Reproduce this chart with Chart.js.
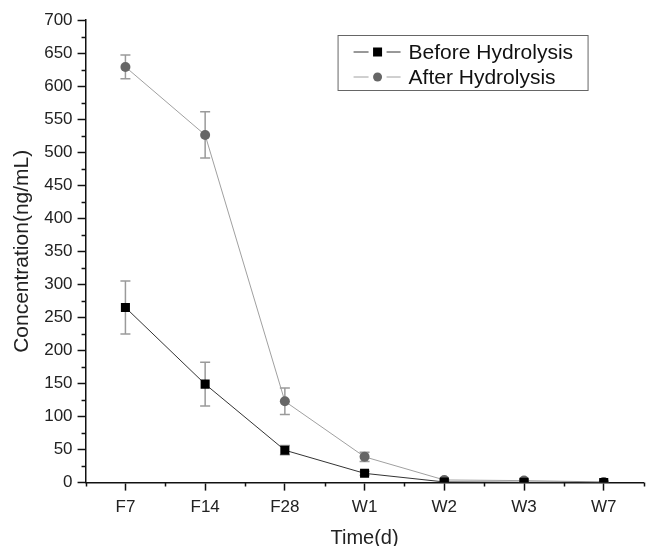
<!DOCTYPE html>
<html>
<head>
<meta charset="utf-8">
<script src="https://cdn.jsdelivr.net/npm/chart.js@4/dist/chart.umd.min.js"></script>
<style>
  html, body { margin: 0; padding: 0; background: #fff; }
  #wrap { width: 650px; height: 546px; }
</style>
</head>
<body>
<div id="wrap"><canvas id="chart" width="650" height="546"></canvas></div>
<script>
/* ── Données ─────────────────────────────────────────────────── */
const timepoints   = ['F7', 'F14', 'F28', 'W1', 'W2', 'W3', 'W7'];
const beforeValues = [265, 149, 49, 14, 1, 0.5, 0.3];
const beforeErrors = [40, 33, 7, 3, 0.5, 0.3, 0.2];
const afterValues  = [629, 526, 123, 39, 4, 3, 1];
const afterErrors  = [18, 35, 20, 7, 1, 1, 0.5];
const yTicksMax    = 700;
const yStep        = 50;

const FONT = '"Liberation Sans", Arial, sans-serif';
Chart.defaults.font.family = FONT;
Chart.defaults.color = '#222';

/* barres d'erreur verticales, sous les marqueurs */
const errorBars = {
  id: 'errorBars',
  beforeDatasetsDraw(chart) {
    const { ctx, scales: { x, y } } = chart;
    ctx.save();
    ctx.strokeStyle = '#9a9a9a';
    ctx.lineWidth = 1.5;
    chart.data.datasets.forEach(ds => {
      ds.values.forEach((v, i) => {
        const e = ds.errors[i];
        if (!e || e < 2) return;
        const px = x.getPixelForValue(i);
        const top = y.getPixelForValue(v + e);
        const bot = y.getPixelForValue(Math.max(0, v - e));
        ctx.beginPath();
        ctx.moveTo(px, top); ctx.lineTo(px, bot);
        ctx.moveTo(px - 5, top); ctx.lineTo(px + 5, top);
        ctx.moveTo(px - 5, bot); ctx.lineTo(px + 5, bot);
        ctx.stroke();
      });
    });
    ctx.restore();
  },
};

/* graduations secondaires + légende encadrée */
const axisExtras = {
  id: 'axisExtras',
  afterDraw(chart) {
    const { ctx, chartArea: a, scales: { x, y } } = chart;
    ctx.save();
    ctx.strokeStyle = '#111';
    ctx.lineWidth = 1.5;
    ctx.beginPath();
    for (let v = yStep / 2; v < yTicksMax; v += yStep) {
      const py = Math.round(y.getPixelForValue(v)) + 0.5;
      ctx.moveTo(a.left - 4, py); ctx.lineTo(a.left, py);
    }
    for (let i = -1; i < timepoints.length; i++) {
      const px = Math.round(x.getPixelForValue(i + 0.5)) + 0.5;
      ctx.moveTo(px, a.bottom); ctx.lineTo(px, a.bottom + 4);
    }
    ctx.stroke();

    // légende
    const bx = a.left + 252, by = a.top + 15, bw = 250, bh = 55;
    ctx.strokeStyle = '#666';
    ctx.lineWidth = 1;
    ctx.strokeRect(bx + 0.5, by + 0.5, bw, bh);
    ctx.font = '21px ' + FONT;
    ctx.textBaseline = 'middle';
    chart.data.datasets.forEach((ds, k) => {
      const ry = by + 17 + k * 25;
      const mx = bx + 40;
      ctx.strokeStyle = ds.borderColor;
      ctx.lineWidth = 1;
      ctx.beginPath();
      ctx.moveTo(bx + 16, ry); ctx.lineTo(mx - 9, ry);
      ctx.moveTo(mx + 9, ry); ctx.lineTo(bx + 63, ry);
      ctx.stroke();
      ctx.fillStyle = ds.pointBackgroundColor;
      if (ds.pointStyle === 'rect') {
        ctx.fillRect(mx - 4.5, ry - 4.5, 9, 9);
      } else {
        ctx.beginPath(); ctx.arc(mx, ry, 4.5, 0, Math.PI * 2); ctx.fill();
      }
      ctx.fillStyle = '#111';
      ctx.fillText(ds.label, bx + 71, ry + 1);
    });
    ctx.restore();
  },
};

new Chart(document.getElementById('chart'), {
  type: 'line',
  data: {
    labels: timepoints,
    datasets: [
      {
        label: 'Before Hydrolysis', data: beforeValues,
        values: beforeValues, errors: beforeErrors,
        borderColor: '#333', borderWidth: 1,
        pointStyle: 'rect', pointRadius: 6.4,
        pointBackgroundColor: '#000', pointBorderColor: '#000', pointBorderWidth: 0,
        tension: 0,
      },
      {
        label: 'After Hydrolysis', data: afterValues,
        values: afterValues, errors: afterErrors,
        borderColor: '#a0a0a0', borderWidth: 1,
        pointStyle: 'circle', pointRadius: 5,
        pointBackgroundColor: '#666', pointBorderColor: '#666', pointBorderWidth: 0,
        tension: 0,
      },
    ],
  },
  options: {
    responsive: false, animation: false,
    layout: { padding: { top: 20, right: 0, bottom: 0, left: 10 } },
    plugins: { legend: { display: false }, tooltip: { enabled: false } },
    scales: {
      x: {
        type: 'category', offset: true,
        grid: { display: true, drawOnChartArea: false, drawTicks: true, tickLength: 8, tickColor: '#111', tickWidth: 1.5, offset: false },
        border: { display: true, color: '#111', width: 1.5 },
        ticks: { font: { size: 17 }, color: '#222', padding: 7, maxRotation: 0 },
        title: { display: true, text: 'Time(d)', font: { size: 20 }, color: '#222', padding: { top: 1, bottom: -4 } },
      },
      y: {
        min: 0, max: yTicksMax,
        grid: { display: true, drawOnChartArea: false, drawTicks: true, tickLength: 8, tickColor: '#111', tickWidth: 1.5 },
        border: { display: true, color: '#111', width: 1.5 },
        ticks: { stepSize: yStep, font: { size: 17 }, color: '#222', padding: 5 },
        title: { display: true, text: 'Concentration(ng/mL)', font: { size: 21 }, color: '#222', padding: { top: 0, bottom: 4 } },
      },
    },
  },
  plugins: [errorBars, axisExtras],
});
</script>
</body>
</html>
